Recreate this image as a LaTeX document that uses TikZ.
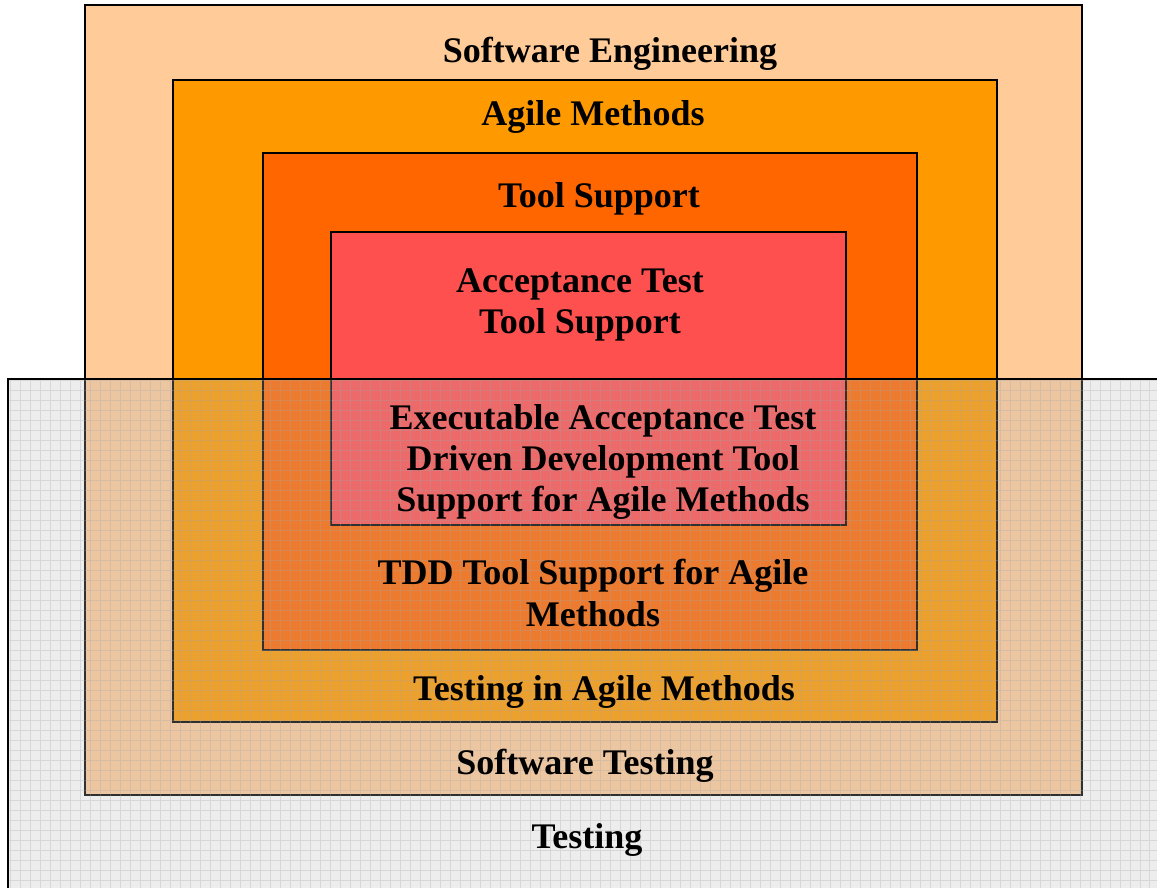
\documentclass[tikz,border=0pt]{standalone}
\usepackage{fontspec}
\setmainfont{Liberation Serif}
\definecolor{seng}{HTML}{FFCC99}
\definecolor{agile}{HTML}{FF9900}
\definecolor{tools}{HTML}{FF6600}
\definecolor{acc}{HTML}{FF5050}
\definecolor{veil}{RGB}{184,184,184}
\definecolor{gridc}{RGB}{165,165,165}
\tikzset{
  layer/.style={draw=black, line width=0.85pt},
  lbl/.style={font=\fontsize{20.5}{23.6}\selectfont\bfseries, align=center, inner sep=0pt, text=black},
}
\begin{document}
\begin{tikzpicture}[x=0.02cm, y=-0.02cm]
\useasboundingbox (0,0) rectangle (1157,888);
\clip (0,0) rectangle (1157,888);
% nested topic areas
\filldraw[layer, fill=seng]  (85,5)   rectangle (1082,795);
\filldraw[layer, fill=agile] (173,80) rectangle (997,722);
\filldraw[layer, fill=tools] (263,153) rectangle (917,650);
\filldraw[layer, fill=acc]   (331,232) rectangle (846,525);
% translucent testing area laid over the lower half
\fill[veil, fill opacity=0.26] (8,379) rectangle (1170,900);
\begin{scope}
  \clip (8,379) rectangle (1170,900);
  \draw[gridc, draw opacity=0.3, line width=0.3pt, step=0.2cm] (8,379) grid (1170,900);
\end{scope}
\draw[line width=0.85pt] (8,900) -- (8,379) -- (1170,379);
% labels
\node[lbl] (se)   at (610,54)  {Software Engineering};
\node[lbl] (am)   at (593,117) {Agile Methods};
\node[lbl] (ts)   at (599,199) {Tool Support};
\node[lbl] (ats)  at (580,305) {Acceptance Test\\Tool Support};
\node[lbl] (eat)  at (603,462) {Executable Acceptance Test\\Driven Development Tool\\Support for Agile Methods};
\node[lbl] (tdd)  at (593,593) {TDD Tool Support for Agile\\Methods};
\node[lbl] (tam)  at (604,692) {Testing in Agile Methods};
\node[lbl] (st)   at (585,766) {Software Testing};
\node[lbl] (tst)  at (587,840) {Testing};
\end{tikzpicture}
\end{document}
